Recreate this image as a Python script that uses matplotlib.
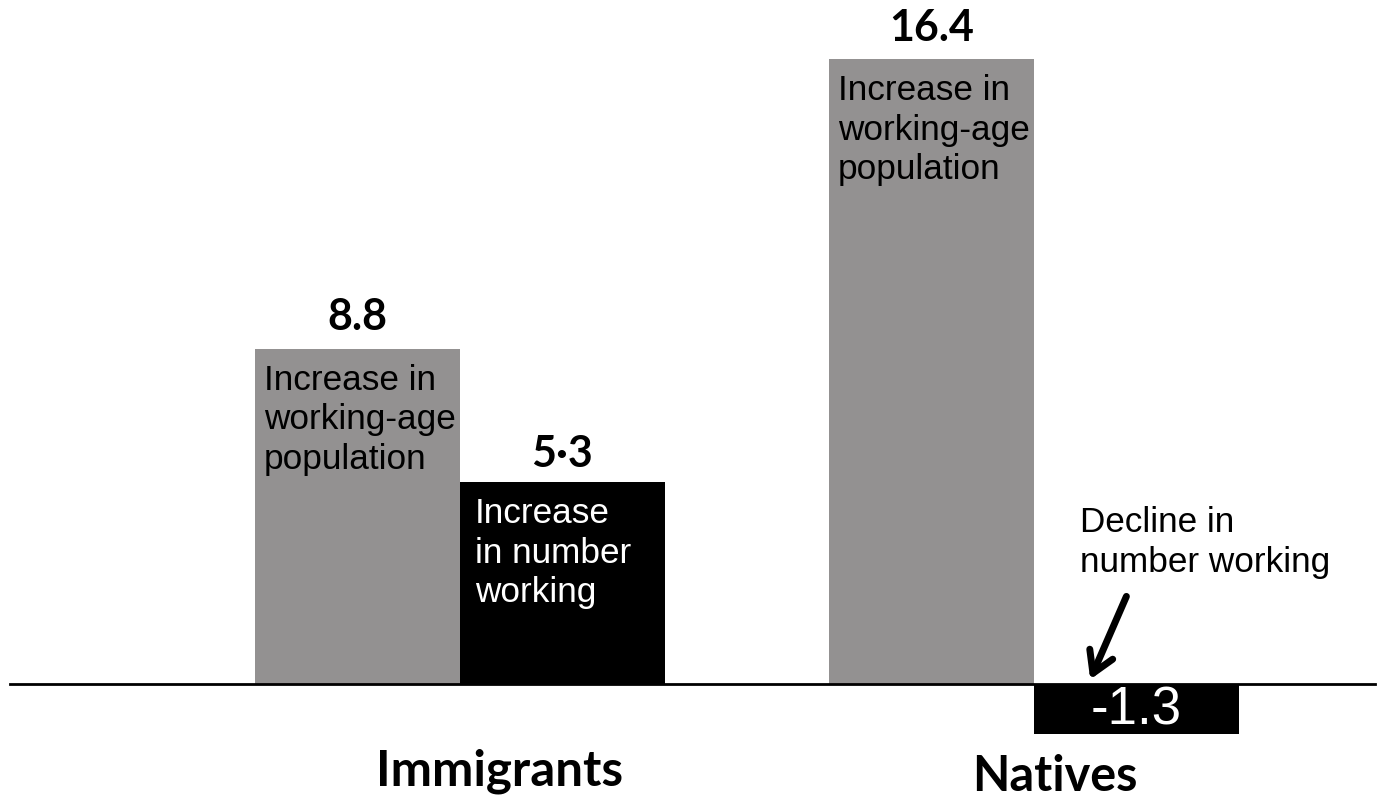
import numpy as np
import matplotlib.pyplot as plt

groups = ['Immigrants', 'Natives']
pop_growth = [8.8, 16.4]      # increase in working-age population
work_growth = [5.3, -1.3]     # change in number working

pop_labels = ['8.8', '16.4']
work_labels = ['5·3', '-1.3']

GRAY = '#939191'
BLACK = '#000000'

fig = plt.figure(figsize=(13.79, 7.98), dpi=100)
ax = fig.add_axes([0, 0, 1, 1])

x = np.arange(len(groups))
w = 0.357

ax.bar(x - w / 2, pop_growth, width=w, color=GRAY, linewidth=0)
ax.bar(x + w / 2, work_growth, width=w, color=BLACK, linewidth=0)

ax.set_xlim(-0.801, 1.601)
ax.set_ylim(-2.99, 17.95)
ax.axis('off')

# baseline
ax.axhline(0, xmin=0.007, xmax=0.997, color='black', linewidth=2)

bold = dict(family=['Lato', 'DejaVu Sans'], fontweight='bold', fontsize=31)
body = dict(family=['Liberation Sans', 'DejaVu Sans'], fontsize=25.3, linespacing=1.25)

# value labels above the gray bars
for i in range(len(groups)):
    ax.text(x[i] - w / 2, pop_growth[i] + 0.3, pop_labels[i],
            ha='center', va='bottom', **bold)
    ax.text(x[i] - w / 2 - w / 2 + 0.016, pop_growth[i] - 0.4,
            'Increase in\nworking-age\npopulation',
            ha='left', va='top', color='black', **body)

# immigrants: black bar label and text
ax.text(x[0] + w / 2, work_growth[0] + 0.2, work_labels[0],
        ha='center', va='bottom', **bold)
ax.text(x[0] + 0.026, work_growth[0] - 0.4, 'Increase\nin number\nworking',
        ha='left', va='top', color='white', **body)

# natives: negative bar
ax.text(x[1] + w / 2, work_growth[1] / 2 - 0.05, work_labels[1],
        ha='center', va='center', color='white',
        family=['Liberation Sans', 'DejaVu Sans'], fontsize=38)
ax.text(x[1] + 0.08, 3.72, 'Decline in\nnumber working',
        ha='left', va='center', **body)
ax.annotate('', xy=(x[1] + 0.098, 0.12), xytext=(x[1] + 0.161, 2.3),
            arrowprops=dict(arrowstyle='->, head_length=0.5, head_width=0.3',
                            color='black', lw=5,
                            mutation_scale=30, shrinkA=0, shrinkB=0))

# group labels
ax.text(x[0] + 0.07, -2.3, groups[0], ha='center', va='center',
        family=['Lato', 'DejaVu Sans'], fontweight='bold', fontsize=35.5)
ax.text(x[1] + 0.037, -2.42, groups[1], ha='center', va='center',
        family=['Lato', 'DejaVu Sans'], fontweight='bold', fontsize=35)

fig.savefig('out.png', dpi=100)
